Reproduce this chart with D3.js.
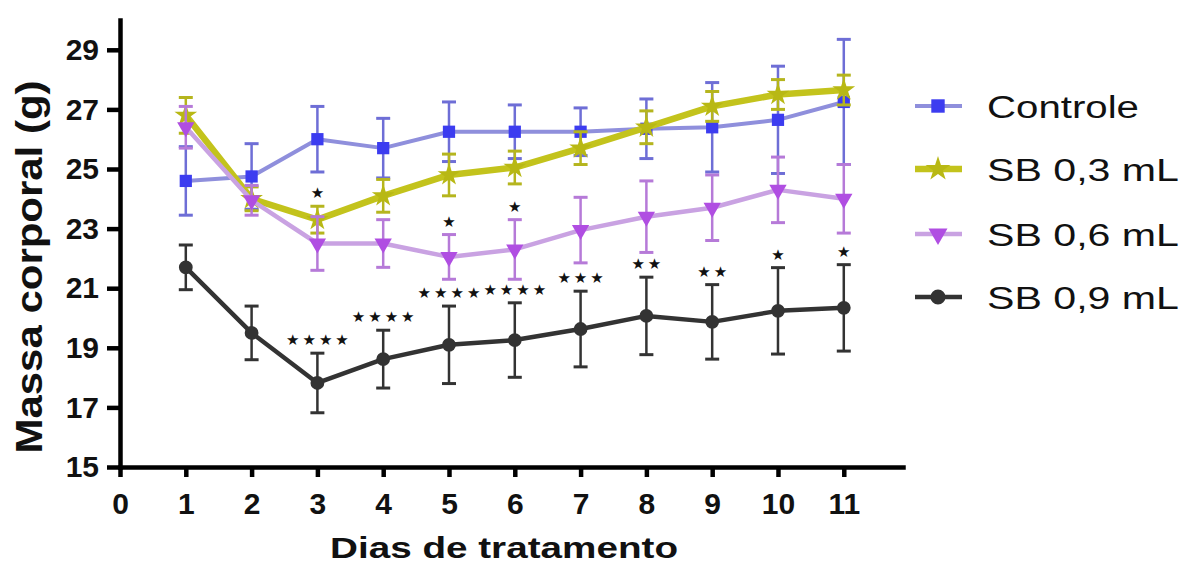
<!DOCTYPE html>
<html>
<head>
<meta charset="utf-8">
<script src="https://cdn.jsdelivr.net/npm/d3@7"></script>
<style>
  body { margin: 0; background: #fff; }
  svg { display: block; }
</style>
</head>
<body>
<svg id="chart" width="1183" height="566"></svg>
<script>
// days of treatment
const days = [1, 2, 3, 4, 5, 6, 7, 8, 9, 10, 11];

// mean body mass (g) and error per group
const controle   = [24.6, 24.75, 26.0, 25.7, 26.25, 26.25, 26.25, 26.35, 26.4, 26.65, 27.25];
const controleSd = [1.15, 1.1, 1.1, 1.0, 1.0, 0.9, 0.8, 1.0, 1.5, 1.8, 2.1];
const sb03   = [26.8, 24.0, 23.3, 24.1, 24.8, 25.05, 25.7, 26.4, 27.1, 27.5, 27.65];
const sb03Sd = [0.6, 0.4, 0.45, 0.55, 0.7, 0.55, 0.55, 0.55, 0.5, 0.5, 0.5];
const sb06   = [26.4, 23.95, 22.5, 22.5, 22.05, 22.3, 22.95, 23.4, 23.7, 24.3, 24.0];
const sb06Sd = [0.7, 0.5, 0.9, 0.8, 0.75, 1.0, 1.1, 1.2, 1.1, 1.1, 1.15];
const sb09   = [21.7, 19.5, 17.82, 18.62, 19.1, 19.26, 19.63, 20.07, 19.87, 20.24, 20.34];
const sb09Sd = [0.75, 0.9, 1.0, 0.97, 1.3, 1.25, 1.27, 1.3, 1.25, 1.45, 1.45];

// significance marks over each day
const sig03 = ['', '', '*', '', '', '', '', '', '', '', ''];
const sig06 = ['', '', '', '', '*', '*', '', '', '', '', ''];
const sig09 = ['', '', '****', '****', '****', '****', '***', '**', '**', '*', '*'];

const xTicks = [0, 1, 2, 3, 4, 5, 6, 7, 8, 9, 10, 11];
const yTicks = [15, 17, 19, 21, 23, 25, 27, 29];

const series = [
  { name: 'Controle',  mean: controle, sd: controleSd, sig: null,
    line: '#8f8fdc', mark: '#3c3cf0', err: '#6e6ed6', lw: 4, sym: d3.symbolSquare, size: 150, rot: 0, tw: 152 },
  { name: 'SB 0,3 mL', mean: sb03, sd: sb03Sd, sig: sig03,
    line: '#c3c31c', mark: '#b8b814', err: '#b5b51e', lw: 6.5, sym: d3.symbolStar, size: 160, rot: 0, tw: 192 },
  { name: 'SB 0,6 mL', mean: sb06, sd: sb06Sd, sig: sig06,
    line: '#c9a2e2', mark: '#b04ee2', err: '#b67ad8', lw: 4.5, sym: d3.symbolTriangle, size: 130, rot: 180, tw: 192 },
  { name: 'SB 0,9 mL', mean: sb09, sd: sb09Sd, sig: sig09,
    line: '#333333', mark: '#333333', err: '#333333', lw: 4.5, sym: d3.symbolCircle, size: 150, rot: 0, tw: 192 }
];

const svg = d3.select('#chart');

const x = d3.scaleLinear().domain([0, 11.9]).range([120, 903]);
const y = d3.scaleLinear().domain([15, 30]).range([467, 20]);

// axes
const xAxis = d3.axisBottom(x).tickValues(xTicks).tickSize(10).tickSizeOuter(0).tickPadding(16);
const yAxis = d3.axisLeft(y).tickValues(yTicks).tickSize(13).tickSizeOuter(0).tickPadding(8);

const gx = svg.append('g').attr('transform', `translate(0,${y(15)})`).call(xAxis);
const gy = svg.append('g').attr('transform', `translate(${x(0)},0)`).call(yAxis);

[gx, gy].forEach(g => {
  g.select('.domain').attr('stroke', '#000').attr('stroke-width', 4.5).attr('stroke-linecap', 'square');
  g.selectAll('.tick line').attr('stroke', '#000').attr('stroke-width', 4.5);
  g.selectAll('.tick text')
    .attr('fill', '#111')
    .style('font-family', '"Liberation Sans", Arial, sans-serif')
    .style('font-weight', 'bold')
    .style('font-size', '30px');
});

// titles
svg.append('text')
  .attr('x', 504).attr('y', 558)
  .attr('text-anchor', 'middle')
  .attr('textLength', 348).attr('lengthAdjust', 'spacingAndGlyphs')
  .style('font-family', '"Liberation Sans", Arial, sans-serif')
  .style('font-weight', 'bold').style('font-size', '29px')
  .attr('fill', '#111')
  .text('Dias de tratamento');

svg.append('text')
  .attr('transform', 'translate(42,267) rotate(-90)')
  .attr('text-anchor', 'middle')
  .attr('textLength', 373).attr('lengthAdjust', 'spacingAndGlyphs')
  .style('font-family', '"Liberation Sans", Arial, sans-serif')
  .style('font-weight', 'bold').style('font-size', '36px')
  .attr('fill', '#111')
  .text('Massa corporal (g)');

const line = d3.line()
  .x((d, i) => x(days[i]))
  .y(d => y(d));

const plot = svg.append('g');

series.forEach(s => {
  const g = plot.append('g');

  // error bars
  const eb = g.selectAll('.eb').data(s.mean).join('g').attr('class', 'eb');
  eb.append('line')
    .attr('x1', (d, i) => x(days[i])).attr('x2', (d, i) => x(days[i]))
    .attr('y1', (d, i) => y(d + s.sd[i])).attr('y2', (d, i) => y(d - s.sd[i]))
    .attr('stroke', s.err).attr('stroke-width', 2.5);
  [1, -1].forEach(sign => {
    eb.append('line')
      .attr('x1', (d, i) => x(days[i]) - 7).attr('x2', (d, i) => x(days[i]) + 7)
      .attr('y1', (d, i) => y(d + sign * s.sd[i])).attr('y2', (d, i) => y(d + sign * s.sd[i]))
      .attr('stroke', s.err).attr('stroke-width', 3);
  });

  // connecting line
  g.append('path')
    .datum(s.mean)
    .attr('fill', 'none')
    .attr('stroke', s.line)
    .attr('stroke-width', s.lw)
    .attr('stroke-linejoin', 'round')
    .attr('d', line);

  // markers
  g.selectAll('.mk').data(s.mean).join('path')
    .attr('class', 'mk')
    .attr('transform', (d, i) => `translate(${x(days[i])},${y(d)}) rotate(${s.rot})`)
    .attr('d', d3.symbol().type(s.sym).size(s.size))
    .attr('fill', s.mark);
});

// significance stars
series.forEach(s => {
  if (!s.sig) return;
  plot.selectAll(null).data(s.sig.map((t, i) => ({ t, i })).filter(d => d.t))
    .join('text')
    .attr('x', d => x(days[d.i]) + 1.5)
    .attr('y', d => y(s.mean[d.i] + s.sd[d.i]) - 13)
    .attr('text-anchor', 'middle')
    .attr('dominant-baseline', 'central')
    .style('font-family', '"DejaVu Sans", sans-serif')
    .style('font-size', '15px')
    .style('letter-spacing', '3px')
    .attr('fill', '#111')
    .text(d => d.t.replace(/\*/g, '\u2605'));
});

// legend
const legendY = [106, 169, 234, 297];
const legend = svg.append('g');
series.forEach((s, k) => {
  const ly = legendY[k];
  legend.append('line')
    .attr('x1', 915).attr('x2', 962).attr('y1', ly).attr('y2', ly)
    .attr('stroke', s.line).attr('stroke-width', s.lw);
  legend.append('path')
    .attr('transform', `translate(938,${ly}) rotate(${s.rot})`)
    .attr('d', d3.symbol().type(s.sym).size(s.size * 1.2))
    .attr('fill', s.mark);
  legend.append('text')
    .attr('x', 987).attr('y', ly + 12)
    .attr('textLength', s.tw).attr('lengthAdjust', 'spacingAndGlyphs')
    .style('font-family', '"Liberation Sans", Arial, sans-serif')
    .style('font-size', '31px')
    .attr('fill', '#111')
    .text(s.name);
});
</script>
</body>
</html>
